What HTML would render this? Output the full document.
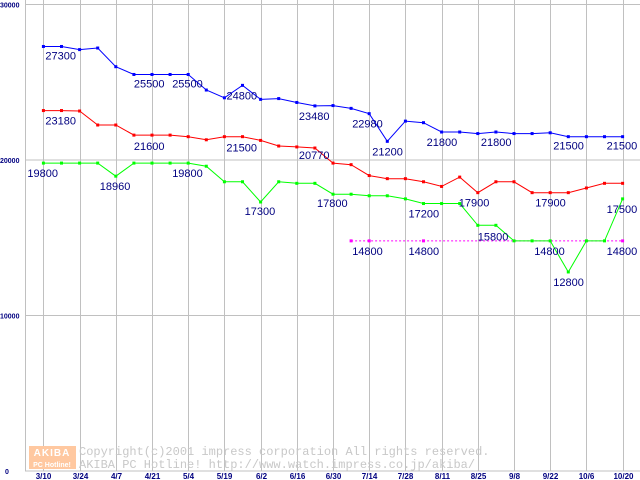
<!DOCTYPE html>
<html><head><meta charset="utf-8"><style>
body{margin:0;background:#fff;}
svg{display:block;font-family:"Liberation Sans",sans-serif;}
</style></head><body>
<svg id="chart" width="640" height="480" xmlns="http://www.w3.org/2000/svg">
<rect width="640" height="480" fill="#fff"/>
<g id="grid"></g>
<g id="wm">
<rect x="29" y="446" width="47" height="23" fill="#ffc8a0"/>
<text x="52" y="456" font-size="10" font-weight="bold" fill="#fff" text-anchor="middle" letter-spacing="1">AKIBA</text>
<text x="52" y="467" font-size="7" font-weight="bold" fill="#fff" text-anchor="middle">PC Hotline!</text>
<text x="79" y="455" font-size="12" fill="#c8c8c8" font-family="Liberation Mono, monospace">Copyright(c)2001 impress corporation All rights reserved.</text>
<text x="79" y="468" font-size="12" fill="#c8c8c8" font-family="Liberation Mono, monospace">AKIBA PC Hotline!  http://www.watch.impress.co.jp/akiba/</text>
</g>
<g id="series"></g>
<g id="labels"></g>
</svg>
<script>
const dates=["3/10","3/24","4/7","4/21","5/4","5/19","6/2","6/16","6/30","7/14","7/28","8/11","8/25","9/8","9/22","10/6","10/20"];
const yTicks=[0,10000,20000,30000];
const blue=[27300,27300,27100,27200,26000,25500,25500,25500,25500,24500,24000,24800,23900,23950,23700,23480,23500,23320,22980,21200,22500,22400,21800,21800,21700,21800,21700,21700,21750,21500,21500,21500,21500];
const red=[23180,23180,23150,22250,22250,21600,21600,21600,21500,21300,21500,21500,21260,20900,20840,20770,19800,19700,19000,18800,18800,18600,18300,18900,17900,18600,18600,17900,17900,17900,18200,18500,18500];
const green=[19800,19800,19800,19800,18960,19800,19800,19800,19800,19600,18600,18600,17300,18600,18500,18500,17800,17800,17700,17700,17500,17200,17200,17200,15800,15800,14800,14800,14800,12800,14800,14800,17500];
const magentaIdx=[17,18,21,32];
const magentaVal=[14800,14800,14800,14800];
// labels: [series, index, text, dx, dy]
const labelSpecs=[
["b",0,"27300",2,4],["b",5,"25500",0,4],["b",8,"25500",-16,4],["b",11,"24800",-16,5],["b",15,"23480",-16,5],["b",18,"22980",-17,5],["b",19,"21200",-15,5],["b",22,"21800",-15,5],["b",25,"21800",-15,5],["b",29,"21500",-15,4],["b",32,"21500",-16,4],
["r",0,"23180",2,5],["r",5,"21600",0,6],["r",10,"21500",2,6],["r",15,"20770",-16,2],["r",24,"17900",-19,5],["r",28,"17900",-15,5],
["g",0,"19800",-16,5],["g",4,"18960",-16,5],["g",8,"19800",-16,5],["g",12,"17300",-16,4],["g",16,"17800",-16,4],["g",21,"17200",-15,5],["g",24,"15800",0,6],["g",28,"14800",-16,5],["g",29,"12800",-15,5],["g",32,"17500",-16,5],
["m",18,"14800",-17,5],["m",21,"14800",-15,5],["m",32,"14800",-16,5]
];
const NS="http://www.w3.org/2000/svg";
const X=i=>43.4+18.1*i;
const Y=v=>471-v*0.01555;
function mk(tag,attrs,parent){const e=document.createElementNS(NS,tag);for(const k in attrs)e.setAttribute(k,attrs[k]);parent.appendChild(e);return e;}
const grid=document.getElementById('grid');
yTicks.forEach(t=>{
 const l=mk('line',{x1:25,x2:640,y1:Y(t),y2:Y(t),stroke:'#c0c0c0','stroke-width':1},grid);
 
 
 const tx=mk('text',{x:t===0?5:0,y:Y(t)+3,'font-size':7,'font-weight':'bold',fill:'#000080'},grid);
 tx.textContent=String(t);
 
 
});
const ax=mk('line',{x1:25.5,x2:25.5,y1:0,y2:471,stroke:'#c0c0c0'},grid);


dates.forEach((d,k)=>{
 const x=Math.round(X(k*2))+0.5;
 const l=mk('line',{x1:x,x2:x,y1:0,y2:471,stroke:'#c0c0c0'},grid);
 
 
 const tx=mk('text',{x:x,y:479,'font-size':8,'font-weight':'bold',fill:'#000080','text-anchor':'middle'},grid);
 tx.textContent=d;
 
 
});
const sg=document.getElementById('series');
function drawSeries(idx,vals,color,name,dash){
 const pts=idx.map((i,k)=>X(i).toFixed(1)+','+Y(vals[k]).toFixed(1)).join(' ');
 const pl=mk('polyline',{points:pts,fill:'none',stroke:color,'stroke-width':1},sg);
 if(dash)pl.setAttribute('stroke-dasharray','2,2');
 
 
 idx.forEach((i,k)=>{
  const r=mk('rect',{x:X(i)-1.5,y:Y(vals[k])-1.5,width:3,height:3,fill:color},sg);
  
  
 });
}
const allIdx=blue.map((_,i)=>i);
drawSeries(magentaIdx,magentaVal,'#ff00ff','magenta-series',true);
drawSeries(allIdx,green,'#00ff00','green-series');
drawSeries(allIdx,red,'#ff0000','red-series');
drawSeries(allIdx,blue,'#0000ff','blue-series');
const lg=document.getElementById('labels');
const src={b:blue,r:red,g:green};
labelSpecs.forEach(s=>{
 const v=s[0]==='m'?magentaVal[magentaIdx.indexOf(s[1])]:src[s[0]][s[1]];
 const t=mk('text',{x:X(s[1])+s[3],y:Y(v)+s[4]+9,'font-size':11,fill:'#000080'},lg);
 t.textContent=s[2];
 
 
});
</script>
</body></html>
